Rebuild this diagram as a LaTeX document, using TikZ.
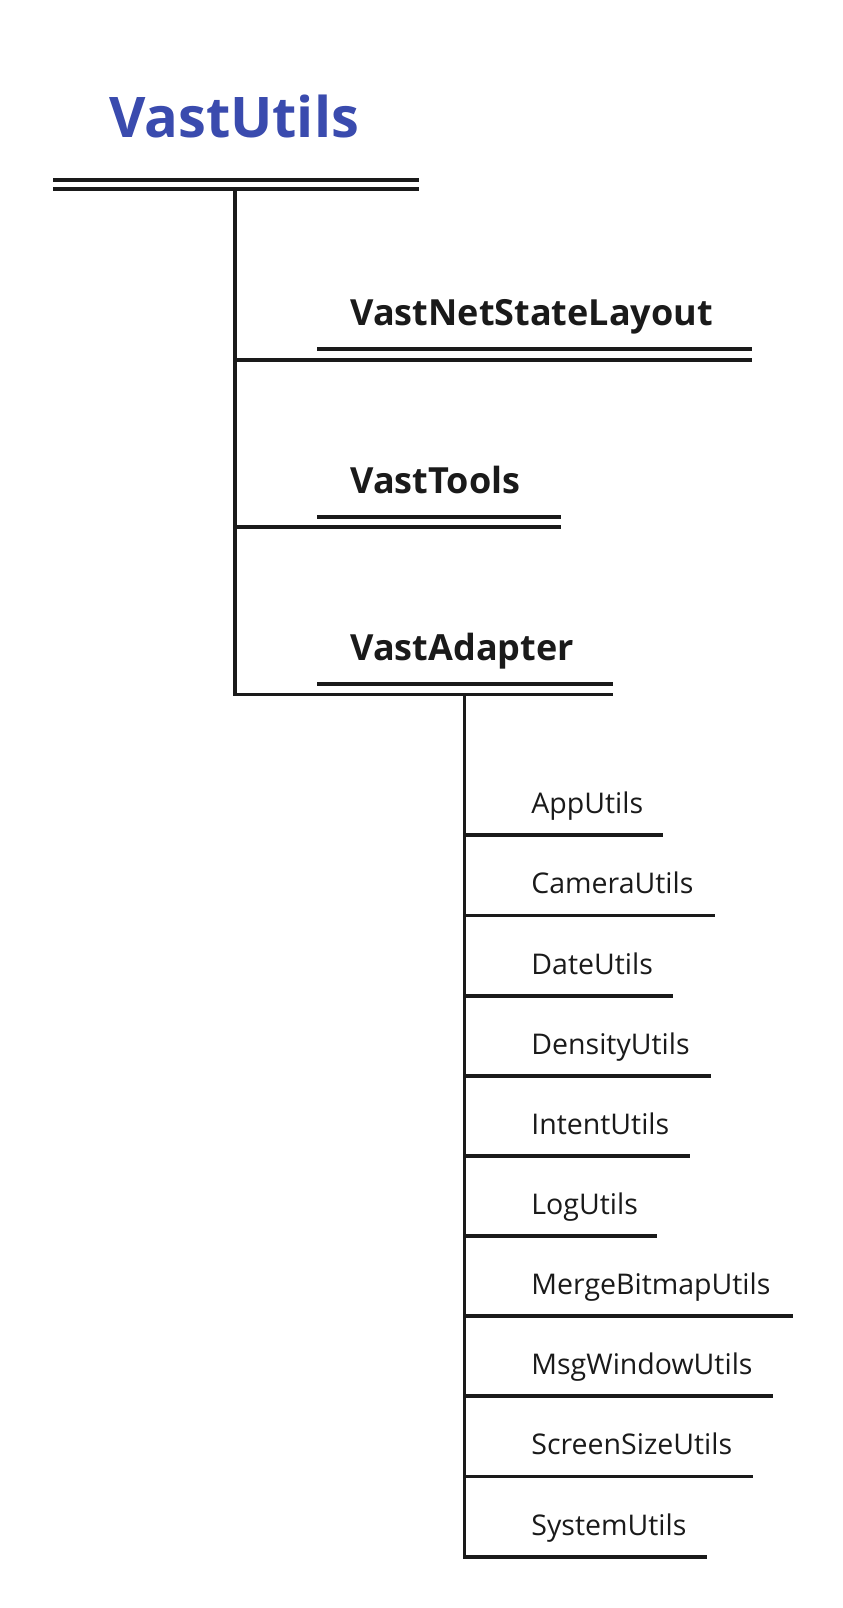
\documentclass[tikz,border=0pt]{standalone}
\usepackage{fontspec}
\setmainfont{Open Sans}
\usetikzlibrary{positioning}
\definecolor{titleblue}{HTML}{3A4BAE}
\definecolor{ink}{HTML}{1A1A1A}
\tikzset{
  rule/.style={line width=3.8pt,draw=ink},
  title/.style={font=\bfseries\fontsize{56}{60}\selectfont,text=titleblue,anchor=base west,inner sep=0pt},
  topic/.style={font=\bfseries\fontsize{36}{40}\selectfont,text=ink,anchor=base west,inner sep=0pt},
  leaf/.style={font=\fontsize{28.5}{32}\selectfont,text=ink,anchor=base west,inner sep=0pt},
}
\begin{document}
\begin{tikzpicture}[x=1.0275pt,y=-1.0275pt]
	\useasboundingbox[fill=white] (0,0) rectangle (819.5,1565);
	% root
	\node[title] (root) at (106,134) {VastUtils};
	\coordinate (rootL) at (52,175); \coordinate (rootR) at (408,175);
	\coordinate (rootL2) at (52,184); \coordinate (rootR2) at (408,184);
	\coordinate (trunk) at (229,184);
	\draw[rule] (rootL) -- (rootR);
	\draw[rule] (rootL2) -- (rootR2);
	% main topics
	\foreach \name/\y/\len [count=\i] in {VastNetStateLayout/350/732,VastTools/513/546,VastAdapter/676/597}{
		\node[topic] (topic\i) at (341,\y-33) {\name};
		\coordinate (u\i) at (309,\y-10); \coordinate (ue\i) at (\len,\y-10);
		\coordinate (b\i) at (229,\y); \coordinate (be\i) at (\len,\y);
		\draw[rule] (u\i) -- (ue\i);
		\draw[rule] (b\i) -- (be\i);
	}
	\draw[rule] (trunk) |- (be3);
	% VastAdapter children
	\coordinate (sub) at (452,676);
	\foreach \name/\len [count=\i] in {AppUtils/645,CameraUtils/696,DateUtils/655,DensityUtils/692,IntentUtils/672,LogUtils/639,MergeBitmapUtils/772,MsgWindowUtils/752,ScreenSizeUtils/733,SystemUtils/688}{
		\coordinate (l\i) at (452,{735+78*\i});
		\coordinate (e\i) at (\len,{735+78*\i});
		\node[leaf] (leaf\i) at (517,{735+78*\i-21}) {\name};
		\draw[rule] (l\i) -- (e\i);
	}
	\draw[rule] (sub) |- (e10);
\end{tikzpicture}
\end{document}
